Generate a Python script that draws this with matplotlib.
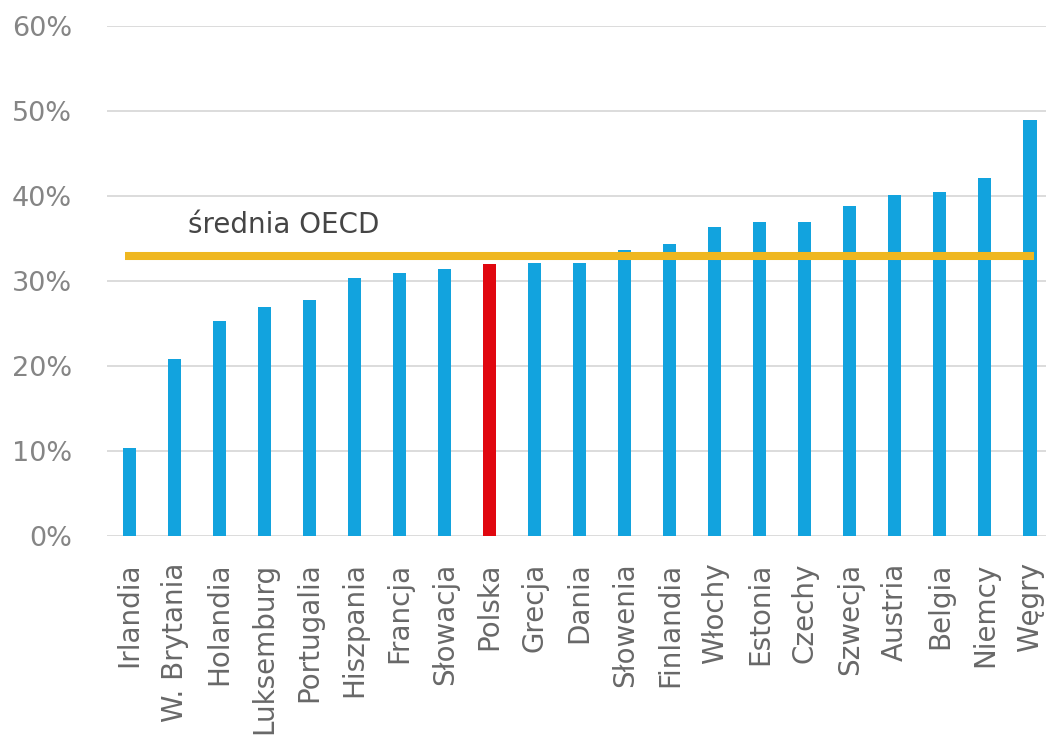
import matplotlib.pyplot as plt
from matplotlib.ticker import PercentFormatter

# Data
kraje = ["Irlandia", "W. Brytania", "Holandia", "Luksemburg", "Portugalia",
         "Hiszpania", "Francja", "Słowacja", "Polska", "Grecja", "Dania",
         "Słowenia", "Finlandia", "Włochy", "Estonia", "Czechy", "Szwecja",
         "Austria", "Belgia", "Niemcy", "Węgry"]
wartosci = [0.104, 0.208, 0.253, 0.269, 0.278, 0.304, 0.310, 0.314, 0.320,
            0.321, 0.321, 0.336, 0.343, 0.363, 0.369, 0.369, 0.388, 0.401,
            0.405, 0.421, 0.489]
srednia_oecd = 0.329
wyrozniony = "Polska"

niebieski = "#12A3DE"
czerwony = "#E0070F"
zolty = "#EFB720"

fig = plt.figure(figsize=(10.46, 7.38), dpi=100)
# axes runs a little past the right edge, like in the source image
ax = fig.add_axes([107 / 1046, 202 / 738, 945.5 / 1046, 510 / 738])

x = list(range(len(kraje)))
kolory = [czerwony if k == wyrozniony else niebieski for k in kraje]
ax.bar(x, wartosci, width=0.29, color=kolory, zorder=2)

ax.plot([-0.1, 20.08], [srednia_oecd, srednia_oecd], color=zolty, lw=5.8,
        solid_capstyle="butt", zorder=3)
ax.text(1.3, 0.356, "średnia OECD", fontsize=20, color="#454545",
        va="baseline", ha="left")

ax.set_xlim(-0.5, len(kraje) - 0.5)
ax.set_ylim(0, 0.6)
ax.set_yticks([0, 0.1, 0.2, 0.3, 0.4, 0.5, 0.6])
ax.yaxis.set_major_formatter(PercentFormatter(1.0, decimals=0))
ax.grid(axis="y", color="#D9D9D9", lw=1.3, zorder=0)
ax.set_axisbelow(True)

for s in ["top", "right", "left", "bottom"]:
    ax.spines[s].set_visible(False)

ax.set_xticks(x)
ax.set_xticklabels(kraje, rotation=90, fontsize=20, color="#686868")
ax.tick_params(axis="x", length=0, pad=19)
ax.tick_params(axis="y", length=0, pad=25, labelsize=19.5, labelcolor="#858585")

plt.savefig("out.png", dpi=100)
